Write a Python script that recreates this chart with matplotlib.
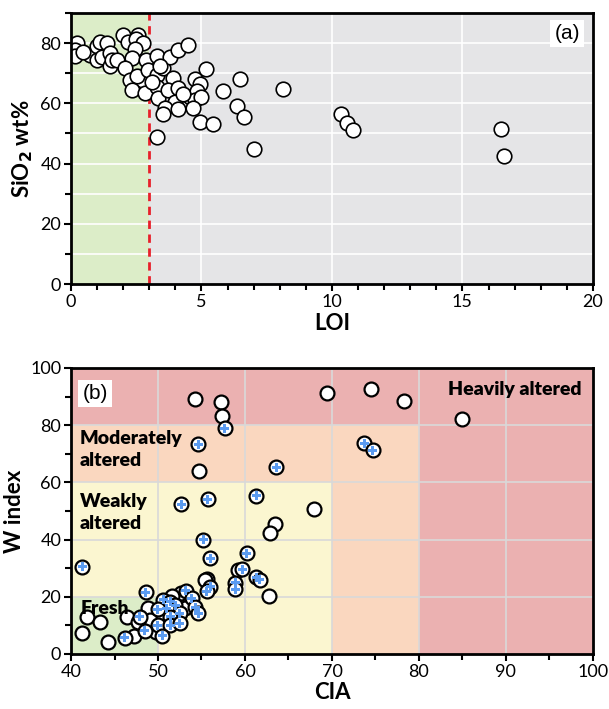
import matplotlib
matplotlib.use('Agg')
import matplotlib.pyplot as plt
from matplotlib.patches import Rectangle

plt.rcParams['font.family'] = ['Lato', 'DejaVu Sans']

# panel (a): LOI vs SiO2
loi = [0.22, 0.15, 0.15, 0.73, 0.98, 1.11, 1.37, 0.98, 1.18, 1.49, 1.49, 1.56,
       1.75, 2.0, 2.2, 2.58, 2.5, 2.77, 2.45, 2.33, 2.07, 2.26, 2.71, 2.52,
       2.33, 2.84, 2.87, 2.96, 3.28, 3.28, 3.28, 3.35, 3.54, 3.79, 4.11, 4.49,
       3.92, 3.73, 4.11, 3.98, 3.6, 3.54, 4.11, 4.56, 4.75, 4.94, 4.82, 4.75,
       5.0, 4.69, 5.16, 5.84, 4.94, 5.45, 6.48, 6.35, 6.63, 3.28, 7.02, 8.11,
       10.33, 10.59, 10.82, 16.48, 16.59, 0.45, 3.1, 4.3, 3.4]
sio2 = [80.0, 77.7, 75.7, 76.1, 78.9, 80.5, 80.0, 74.4, 75.3, 76.6, 72.3, 74.4,
        74.4, 82.7, 80.5, 82.7, 81.3, 80.0, 78.0, 75.0, 71.7, 67.8, 67.8, 69.1,
        64.4, 63.4, 74.4, 71.1, 75.6, 69.4, 65.3, 61.7, 71.7, 75.3, 77.7, 79.4,
        68.3, 64.4, 65.0, 60.6, 58.4, 56.5, 58.0, 62.2, 68.0, 66.4, 64.2, 61.1,
        62.2, 58.4, 71.4, 64.2, 53.9, 53.2, 68.1, 59.1, 55.4, 48.7, 44.7, 64.7,
        56.4, 53.4, 51.2, 51.5, 42.5, 77.0, 67.0, 63.0, 72.5]

# panel (b): CIA vs W index, open circles
cia_open = [54.25, 57.3, 57.4, 69.4, 54.7, 67.9, 63.4, 62.9, 59.2, 55.6, 55.4,
            62.8, 52.7, 51.6, 53.1, 48.8, 50.2, 49.1, 46.4, 47.7, 49.8, 47.2,
            44.3, 41.3, 41.8, 43.3, 74.5, 78.3, 85.0]
w_open = [89.0, 88.0, 83.2, 91.1, 64.0, 50.6, 45.5, 42.2, 29.4, 26.1, 26.0,
          20.3, 21.2, 20.3, 16.0, 16.0, 13.6, 11.9, 12.8, 11.3, 7.8, 6.3,
          4.3, 7.2, 12.8, 11.3, 92.7, 88.5, 82.3]
# circles with a blue cross
cia_plus = [57.7, 54.6, 63.6, 52.7, 55.7, 61.3, 55.2, 60.2, 56.0, 41.3, 59.7,
            61.3, 61.7, 58.9, 58.9, 56.0, 55.6, 48.6, 53.2, 53.9, 50.6, 51.4,
            52.0, 51.0, 54.3, 54.6, 52.5, 50.0, 51.4, 47.9, 50.0, 51.4, 52.5,
            48.5, 50.5, 46.2, 73.7, 74.7]
w_plus = [78.9, 73.3, 65.3, 52.3, 54.1, 55.4, 39.9, 35.2, 33.5, 30.5, 29.7,
          26.8, 25.9, 24.9, 22.6, 23.5, 22.0, 21.6, 22.1, 19.5, 18.9, 18.3,
          17.1, 16.0, 16.3, 14.2, 14.2, 15.6, 13.0, 13.0, 10.1, 10.1, 10.7,
          8.2, 6.3, 5.7, 73.7, 71.3]

fig = plt.figure(figsize=(6.09, 7.09), dpi=100)
ax1 = fig.add_axes([0.1166, 0.5994, 0.857, 0.3823])
ax2 = fig.add_axes([0.1166, 0.0776, 0.857, 0.4034])

#
# panel (a)
#
ax1.set_xlim(0, 20)
ax1.set_ylim(0, 90)
ax1.add_patch(Rectangle((0, 0), 3, 90, facecolor='#dcedc8', zorder=0))
ax1.add_patch(Rectangle((3, 0), 17, 90, facecolor='#e5e5e7', zorder=0))
for x in [5, 10, 15]:
    ax1.axvline(x, color='white', lw=1.2, zorder=1)
for y in range(10, 90, 10):
    ax1.axhline(y, color='white', lw=1.2, zorder=1)
ax1.axvline(3, color='#e8202a', lw=2, ls=(0, (3, 2)), zorder=2)
ax1.scatter(loi, sio2, s=110, facecolor='white', edgecolor='black',
            linewidth=1.2, zorder=3)
ax1.set_xticks(range(0, 21, 5))
ax1.set_xticks(range(0, 21, 1), minor=True)
ax1.set_yticks(range(0, 81, 20))
ax1.set_yticks(range(0, 91, 10), minor=True)
ax1.set_xlabel('LOI', fontsize=16, fontweight='bold', labelpad=2)
ax1.set_ylabel('SiO$_\\mathbf{2}$ wt%', fontsize=16, fontweight='bold', labelpad=4)
ax1.text(0.975, 0.925, '(a)', transform=ax1.transAxes, ha='right', va='center',
         fontsize=15, family='Liberation Sans',
         bbox=dict(facecolor='white', edgecolor='none', pad=3))

#
# panel (b)
#
ax2.set_xlim(40, 100)
ax2.set_ylim(0, 100)
ax2.add_patch(Rectangle((40, 0), 60, 100, facecolor='#ebb1b1', zorder=0))
ax2.add_patch(Rectangle((40, 0), 40, 80, facecolor='#fad7bf', zorder=0))
ax2.add_patch(Rectangle((40, 0), 30, 60, facecolor='#fbf6d0', zorder=0))
ax2.add_patch(Rectangle((40, 0), 10, 20, facecolor='#dcedc8', zorder=0))
for x in range(50, 100, 10):
    ax2.axvline(x, color='#d9d9d9', lw=1.2, zorder=1)
for y in range(20, 100, 20):
    ax2.axhline(y, color='#d9d9d9', lw=1.2, zorder=1)
mk = dict(s=100, facecolor='white', edgecolor='black', linewidth=1.6, zorder=3)
ax2.scatter(cia_open, w_open, **mk)
ax2.scatter(cia_plus, w_plus, **mk)
ax2.scatter(cia_plus, w_plus, marker='P', s=42, color='#5b9bf0',
            edgecolor='none', zorder=4)
ax2.set_xticks(range(40, 101, 10))
ax2.set_xticks(range(40, 101, 5), minor=True)
ax2.set_yticks(range(0, 101, 20))
ax2.set_yticks(range(0, 101, 10), minor=True)
ax2.set_xlabel('CIA', fontsize=16, fontweight='bold', labelpad=2)
ax2.set_ylabel('W index', fontsize=16, fontweight='bold', labelpad=4)
ax2.text(41.3, 91, '(b)', ha='left', va='center', fontsize=15,
         family='Liberation Sans',
         bbox=dict(facecolor='white', edgecolor='none', pad=3))
lab = dict(fontsize=14, fontweight='heavy', ha='left', va='center', zorder=5)
ax2.text(98.7, 92.5, 'Heavily altered', ha='right', va='center',
         fontsize=14, fontweight='heavy', zorder=5)
ax2.text(41, 71.5, 'Moderately\naltered', linespacing=1.35, **lab)
ax2.text(41, 49.5, 'Weakly\naltered', linespacing=1.35, **lab)
ax2.text(41.1, 16, 'Fresh', **lab)

for ax in (ax1, ax2):
    for sp in ax.spines.values():
        sp.set_linewidth(2)
        sp.set_color('black')
        sp.set_zorder(6)
    ax.tick_params(which='both', direction='out', width=1.5, labelsize=13,
                   pad=2)
    ax.tick_params(which='major', length=5)
    ax.tick_params(which='minor', length=4)

fig.savefig('out.png', dpi=100)
